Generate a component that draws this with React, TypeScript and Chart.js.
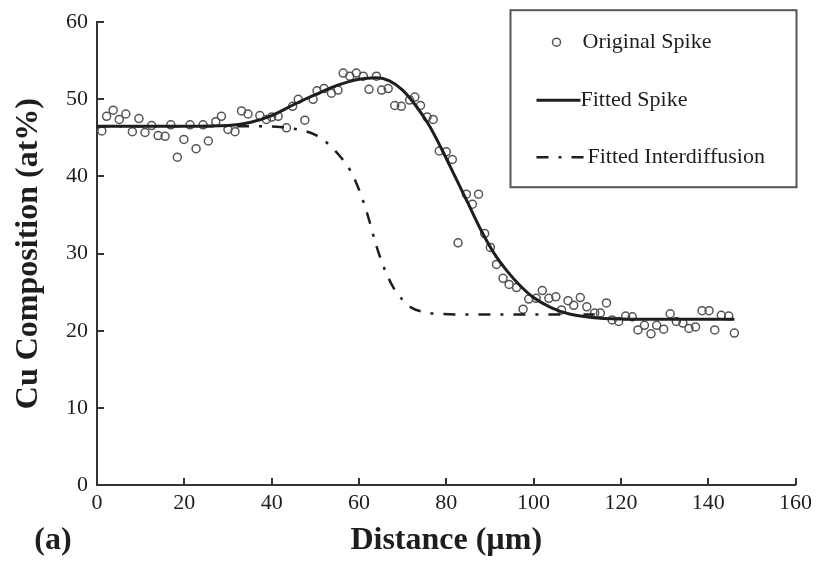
import React, { useEffect, useRef } from "react";
import { Chart, registerables } from "chart.js";

Chart.register(...registerables);

// ---- data ----
const spikeX = [
  1.1, 2.2, 3.7, 5.1, 6.6, 8.1, 9.6, 11.0, 12.5, 14.0, 15.6, 16.9, 18.4, 19.9, 21.3, 22.7, 24.3, 25.5,
  27.2, 28.5, 30.0, 31.6, 33.1, 34.6, 37.3, 38.8, 40.0, 41.5, 43.4, 44.8, 46.1, 47.6, 49.5, 50.4, 52.0,
  53.7, 55.2, 56.4, 57.9, 59.4, 61.0, 62.3, 64.0, 65.2, 66.7, 68.2, 69.7, 71.6, 72.8, 74.1, 75.6, 77.0,
  78.4, 80.0, 81.4, 82.7, 84.6, 86.0, 87.4, 88.8, 90.1, 91.5, 93.0, 94.4, 96.1, 97.6, 98.9, 100.6, 102.0,
  103.5, 105.1, 106.4, 107.9, 109.2, 110.7, 112.2, 114.0, 115.3, 116.7, 118.0, 119.5, 121.1, 122.6, 123.9,
  125.4, 126.9, 128.2, 129.8, 131.3, 132.7, 134.2, 135.6, 137.1, 138.6, 140.2, 141.5, 143.0, 144.7, 146.0,
];
const spikeY = [
  45.9, 47.8, 48.6, 47.4, 48.1, 45.8, 47.5, 45.7, 46.6, 45.3, 45.2, 46.7, 42.5, 44.8, 46.7, 43.6, 46.7, 44.6,
  47.1, 47.8, 46.1, 45.8, 48.5, 48.1, 47.9, 47.4, 47.7, 47.8, 46.3, 49.1, 50.0, 47.3, 50.0, 51.1, 51.4,
  50.8, 51.2, 53.4, 53.0, 53.4, 53.0, 51.3, 53.0, 51.2, 51.4, 49.2, 49.1, 49.9, 50.3, 49.2, 47.7, 47.4,
  43.3, 43.2, 42.2, 31.4, 37.7, 36.4, 37.7, 32.6, 30.8, 28.6, 26.8, 26.0, 25.6, 22.8, 24.1, 24.2, 25.2,
  24.2, 24.4, 22.7, 23.9, 23.3, 24.3, 23.1, 22.3, 22.3, 23.6, 21.4, 21.2, 21.9, 21.8, 20.1,
  20.7, 19.6, 20.7, 20.2, 22.2, 21.2, 21.0, 20.3, 20.5, 22.6, 22.6, 20.1, 22.0, 21.9, 19.7,
];

const fitSpikeX = [0, 10, 20, 30, 35, 40, 45, 50, 55, 60, 64, 67, 70, 73, 76, 79, 82, 85, 88, 91, 94, 97, 100, 104, 108, 112, 116, 125, 135, 146];
const fitSpikeY = [46.5, 46.5, 46.5, 46.6, 47.0, 47.9, 49.3, 50.6, 51.8, 52.6, 52.8, 52.4, 51.2, 49.2, 46.7, 43.5, 40.0, 36.5, 33.0, 30.0, 27.7, 25.8, 24.3, 23.0, 22.2, 21.8, 21.6, 21.5, 21.5, 21.5];

const fitInterX = [0, 10, 20, 30, 38, 42, 46, 50, 53, 56, 58, 60, 62, 64, 66, 68, 70, 72, 75, 78, 85, 100, 114];
const fitInterY = [46.5, 46.5, 46.5, 46.5, 46.5, 46.4, 46.1, 45.4, 44.2, 42.4, 40.8, 38.3, 35.0, 31.0, 27.8, 25.5, 24.0, 23.0, 22.4, 22.2, 22.1, 22.1, 22.1];

const xTicks = [0, 20, 40, 60, 80, 100, 120, 140, 160];
const yTicks = [0, 10, 20, 30, 40, 50, 60];

const seriesNames = ["Original Spike", "Fitted Spike", "Fitted Interdiffusion"];
const xTitle = "Distance (µm)";
const yTitle = "Cu Composition (at%)";
const panelLabel = "(a)";

const FONT = "'Liberation Serif', 'Times New Roman', serif";
const INK = "#1e1e1e";
const AXIS = "#333333";
const MARK = "#555555";
const DASHDOT = [12, 10, 3, 10];

const decorPlugin = {
  id: "decor",
  afterDraw(chart: any) {
    const { ctx, chartArea, scales } = chart;
    const xs = scales.x;
    const ys = scales.y;
    ctx.save();
    // inward tick marks
    ctx.strokeStyle = AXIS;
    ctx.lineWidth = 2;
    xTicks.forEach((v) => {
      const px = Math.round(xs.getPixelForValue(v));
      ctx.beginPath();
      ctx.moveTo(px, chartArea.bottom);
      ctx.lineTo(px, chartArea.bottom - 7);
      ctx.stroke();
    });
    yTicks.forEach((v) => {
      const py = Math.round(ys.getPixelForValue(v));
      ctx.beginPath();
      ctx.moveTo(chartArea.left, py);
      ctx.lineTo(chartArea.left + 7, py);
      ctx.stroke();
    });

    // legend box
    const bx = chartArea.right - 285;
    const by = chartArea.top - 12;
    const bw = 286;
    const bh = 177;
    ctx.fillStyle = "#ffffff";
    ctx.fillRect(bx, by, bw, bh);
    ctx.strokeStyle = "#555555";
    ctx.lineWidth = 2;
    ctx.strokeRect(bx, by, bw, bh);

    ctx.font = `22px ${FONT}`;
    ctx.fillStyle = INK;
    ctx.textBaseline = "middle";
    ctx.textAlign = "left";

    // item 1: circle
    const r1 = by + 32;
    ctx.beginPath();
    ctx.strokeStyle = MARK;
    ctx.lineWidth = 1.5;
    ctx.arc(bx + 46, r1, 4, 0, Math.PI * 2);
    ctx.stroke();
    ctx.fillText(seriesNames[0], bx + 72, r1);

    // item 2: solid line
    const r2 = by + 90;
    ctx.beginPath();
    ctx.strokeStyle = INK;
    ctx.lineWidth = 3;
    ctx.moveTo(bx + 26, r2);
    ctx.lineTo(bx + 70, r2);
    ctx.stroke();
    ctx.fillText(seriesNames[1], bx + 70, r2);

    // item 3: dash-dot
    const r3 = by + 147;
    ctx.beginPath();
    ctx.setLineDash(DASHDOT);
    ctx.lineWidth = 2.5;
    ctx.moveTo(bx + 26, r3);
    ctx.lineTo(bx + 73, r3);
    ctx.stroke();
    ctx.setLineDash([]);
    ctx.fillText(seriesNames[2], bx + 77, r3);

    // panel label
    ctx.font = `bold 32px ${FONT}`;
    ctx.textAlign = "center";
    ctx.fillText(panelLabel, 53, chart.height - 20);
    ctx.restore();
  },
};

export default function App() {
  const canvasRef = useRef<HTMLCanvasElement | null>(null);

  useEffect(() => {
    document.body.style.margin = "0";
    const canvas = canvasRef.current;
    if (!canvas) return;

    const chart = new Chart(canvas, {
      type: "scatter",
      data: {
        datasets: [
          {
            label: seriesNames[0],
            data: spikeX.map((x, i) => ({ x, y: spikeY[i] })),
            showLine: false,
            pointRadius: 4,
            pointBorderWidth: 1.5,
            pointBorderColor: MARK,
            pointBackgroundColor: "rgba(0,0,0,0)",
            order: 2,
          },
          {
            label: seriesNames[1],
            data: fitSpikeX.map((x, i) => ({ x, y: fitSpikeY[i] })),
            showLine: true,
            borderColor: INK,
            borderWidth: 3,
            pointRadius: 0,
            cubicInterpolationMode: "monotone",
            order: 0,
          },
          {
            label: seriesNames[2],
            data: fitInterX.map((x, i) => ({ x, y: fitInterY[i] })),
            showLine: true,
            borderColor: INK,
            borderWidth: 2.5,
            borderDash: DASHDOT,
            pointRadius: 0,
            cubicInterpolationMode: "monotone",
            order: 1,
          },
        ],
      },
      options: {
        animation: false,
        responsive: true,
        maintainAspectRatio: false,
        layout: { padding: { top: 22, right: 21, left: 0, bottom: 0 } },
        plugins: {
          legend: { display: false },
          tooltip: { enabled: false },
        },
        scales: {
          x: {
            type: "linear",
            min: 0,
            max: 160,
            afterBuildTicks: (s: any) => {
              s.ticks = xTicks.map((v) => ({ value: v }));
            },
            afterFit: (s: any) => {
              s.height = 76;
            },
            grid: { display: false, drawTicks: false },
            border: { display: true, color: AXIS, width: 2 },
            ticks: {
              color: INK,
              padding: 5,
              font: { family: FONT, size: 22 },
            },
            title: {
              display: true,
              text: xTitle,
              color: INK,
              font: { family: FONT, size: 32, weight: "bold" },
              padding: { top: 0, bottom: 1 },
            },
          },
          y: {
            type: "linear",
            min: 0,
            max: 60,
            afterBuildTicks: (s: any) => {
              s.ticks = yTicks.map((v) => ({ value: v }));
            },
            afterFit: (s: any) => {
              s.width = 97;
            },
            grid: { display: false, drawTicks: false },
            border: { display: true, color: AXIS, width: 2 },
            ticks: {
              color: INK,
              padding: 9,
              font: { family: FONT, size: 22 },
            },
            title: {
              display: true,
              text: yTitle,
              color: INK,
              font: { family: FONT, size: 32, weight: "bold" },
              padding: { top: 10, bottom: 0 },
            },
          },
        },
      },
      plugins: [decorPlugin],
    });

    return () => chart.destroy();
  }, []);

  return (
    <div style={{ position: "relative", width: 817, height: 561 }}>
      <canvas ref={canvasRef} />
    </div>
  );
}
